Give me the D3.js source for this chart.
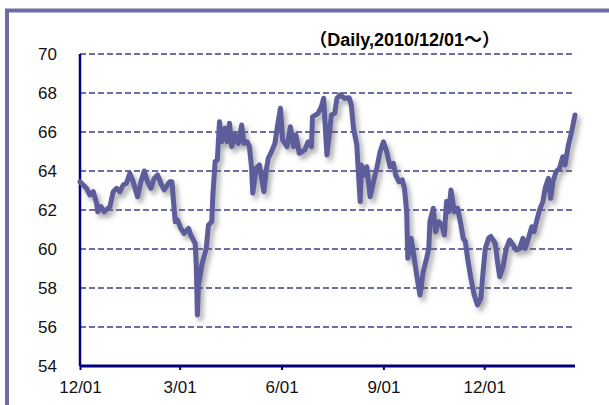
<!DOCTYPE html>
<html><head><meta charset="utf-8">
<script src="https://cdn.jsdelivr.net/npm/d3@7"></script>
<style>html,body{margin:0;padding:0;background:#fff;overflow:hidden}svg{display:block}</style>
</head><body>
<script>
// Days since 2010-12-01 for each observation
const dayOffsets = [0,6,9,12,15,16,19,22,27,30,33,36,39,42,45,48,52,55,58,61,64,67,70,73,76,81,83,85,86,88,91,94,98,100,104,105,106,107,110,114,116,119,120,122,124,126,128,131,133,135,137,140,143,146,148,151,153,155,156,159,162,164,166,168,170,173,176,178,181,183,187,190,193,195,198,203,206,209,210,215,218,220,223,227,230,232,235,239,243,245,247,250,251,253,254,257,259,262,265,268,271,274,277,280,283,285,288,291,293,295,296,299,302,305,307,310,313,315,316,319,321,324,327,329,331,333,335,338,341,344,346,348,350,353,356,359,362,364,366,369,371,375,377,379,382,385,388,391,394,397,400,402,405,408,410,413,415,418,420,423,425,427,430,433,436,438,441,444,447];
const values = [63.45,63.1,62.77,62.94,62.34,61.91,62.17,61.91,62.17,62.94,63.11,62.94,63.28,63.37,63.88,63.45,62.68,63.45,64.0,63.45,63.11,63.62,63.8,63.37,63.03,63.45,63.45,62.09,61.4,61.49,61.06,60.8,61.06,60.72,60.29,59.18,56.62,58.15,59.18,60.03,61.23,61.4,62.77,64.48,64.56,66.53,65.5,66.19,65.5,66.45,65.25,65.85,65.42,66.36,65.42,65.5,65.25,64.14,62.86,64.14,64.31,63.62,62.94,63.97,64.65,64.99,65.42,66.19,67.22,65.59,65.25,66.27,65.25,65.85,64.91,65.08,65.5,65.25,66.78,66.96,67.3,67.73,64.82,66.87,66.96,67.73,67.9,67.73,67.76,67.38,66.19,65.33,64.31,62.43,64.31,63.8,64.22,62.68,63.45,64.14,64.99,65.5,64.99,64.22,64.39,63.8,63.45,63.54,63.11,61.91,59.52,60.55,59.44,58.32,57.64,58.84,59.52,60.03,61.4,62.09,60.89,61.4,61.23,60.72,62.43,61.91,63.03,61.91,62.09,61.23,60.55,60.38,59.52,58.5,57.64,57.13,57.47,58.84,60.03,60.55,60.64,60.29,59.35,58.58,59.09,60.03,60.46,60.21,59.95,60.03,60.55,60.03,60.55,61.14,60.89,61.57,62.0,62.43,63.11,63.62,62.6,63.45,63.97,64.14,64.73,64.31,65.33,66.02,66.87];
const yTicks = [54,56,58,60,62,64,66,68,70];
const xTickDates = ["2010-12-01","2011-03-01","2011-06-01","2011-09-01","2011-12-01"];
const xTickLabels = ["12/01","3/01","6/01","9/01","12/01"];
const startDate = "2010-12-01";
const endDate = "2012-02-21";
const titleText = "（Daily,2010/12/01～）";

const W = 609, H = 405;
const parse = d3.timeParse("%Y-%m-%d");
const start = parse(startDate);
const data = dayOffsets.map((o,i)=>({date:d3.timeDay.offset(start,o), v:values[i]}));

const svg = d3.select("body").append("svg").attr("width",W).attr("height",H);

const defs = svg.append("defs");
const f = defs.append("filter").attr("id","shadow").attr("x","-10%").attr("y","-10%").attr("width","130%").attr("height","130%");
f.append("feDropShadow").attr("dx",3).attr("dy",4).attr("stdDeviation",2.5).attr("flood-color","#555").attr("flood-opacity",0.5);

// frame
svg.append("rect").attr("x",7).attr("y",10.5).attr("width",W+20).attr("height",H+20)
  .attr("fill","none").attr("stroke","#6c6ca4").attr("stroke-width",4);

const x = d3.scaleTime().domain([start, parse(endDate)]).range([80,575]);
const y = d3.scaleLinear().domain([54,70]).range([366,54]);

// gridlines
svg.append("g").selectAll("line").data(yTicks.filter(t=>t>54)).join("line")
  .attr("x1",80).attr("x2",575).attr("y1",d=>y(d)).attr("y2",d=>y(d))
  .attr("stroke","#6e6ea6").attr("stroke-width",2).attr("stroke-dasharray","6,3");

// y labels
svg.append("g").selectAll("text").data(yTicks).join("text")
  .attr("x",57).attr("y",d=>y(d)).attr("dy","0.35em").attr("text-anchor","end")
  .attr("font-family","'Liberation Sans',Arial,sans-serif").attr("font-size",17).attr("fill","#111")
  .text(d=>d);

// x axis
const xAxis = d3.axisBottom(x).tickValues(xTickDates.map(parse)).tickSize(4)
  .tickFormat((d,i)=>xTickLabels[i]);
const gx = svg.append("g").attr("transform","translate(0,366)").call(xAxis);
gx.select(".domain").attr("stroke","#00007f").attr("stroke-width",3).attr("d","M80,0H575");
gx.selectAll(".tick line").attr("stroke","#00007f").attr("stroke-width",2);
gx.selectAll(".tick text").attr("font-family","'Liberation Sans',Arial,'Noto Sans CJK JP',sans-serif")
  .attr("font-size",17).attr("fill","#111").attr("y",15).attr("dy","0.71em");

// y axis line
svg.append("line").attr("x1",80).attr("x2",80).attr("y1",y(70)).attr("y2",y(54))
  .attr("stroke","#00007f").attr("stroke-width",2.5);

// series
const line = d3.line().x(d=>x(d.date)).y(d=>y(d.v)).curve(d3.curveLinear);
svg.append("path").datum(data).attr("d",line).attr("fill","none")
  .attr("stroke","#5d5d9b").attr("stroke-width",5).attr("stroke-linejoin","round").attr("stroke-linecap","round")
  .attr("filter","url(#shadow)");

// title
svg.append("text").attr("x",500).attr("y",46).attr("text-anchor","end")
  .attr("font-family","'Liberation Sans',Arial,'Noto Sans CJK JP',sans-serif").attr("font-weight","bold")
  .attr("font-size",18).attr("fill","#000").text(titleText);
</script>
</body></html>
